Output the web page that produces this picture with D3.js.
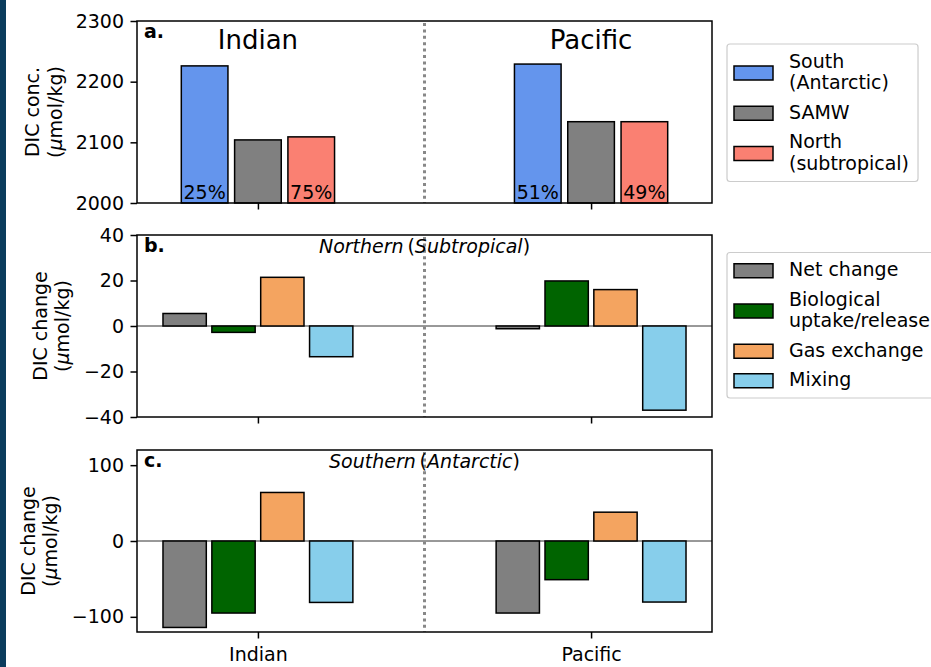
<!DOCTYPE html>
<html>
<head>
<meta charset="utf-8">
<script src="https://cdn.jsdelivr.net/npm/d3@7"></script>
<style>
  body { margin: 0; background: #fff; }
  text { font-family: "DejaVu Sans", sans-serif; }
</style>
</head>
<body>
<svg width="931" height="667"></svg>
<script>
// ---- data ----
const oceans = ["Indian", "Pacific"];

// panel a: DIC concentration of source waters and SAMW
const concLabels = ["South\n(Antarctic)", "SAMW", "North\n(subtropical)"];
const southConc = [2226, 2229];
const samwConc = [2104, 2134];
const northConc = [2109, 2134];
const southShare = ["25%", "51%"];
const northShare = ["75%", "49%"];

// panels b & c: DIC change terms
const termLabels = ["Net change", "Biological\nuptake/release", "Gas exchange", "Mixing"];
const northNet = [5.5, -1.2];
const northBio = [-2.8, 19.8];
const northGas = [21.4, 16.0];
const northMix = [-13.5, -37.0];
const southNet = [-114, -95];
const southBio = [-95, -51];
const southGas = [64, 38];
const southMix = [-81, -80.5];

const concTicks = [2000, 2100, 2200, 2300];
const northTicks = [-40, -20, 0, 20, 40];
const southTicks = [-100, 0, 100];

// ---- layout ----
const svg = d3.select("svg");
svg.append("rect").attr("width", 931).attr("height", 667).attr("fill", "#fff");
svg.append("rect").attr("width", 6).attr("height", 667).attr("fill", "#0b3c5d");

const FS = 19;
const left = 137, right = 712, H = 182;
const x = d3.scaleLinear().domain([-0.363, 1.363]).range([left, right]);
const fmt = d3.format("d");

function panel(p) {
  const g = svg.append("g");
  const y = d3.scaleLinear().domain(p.yDomain).range([p.top + H, p.top]);

  if (p.zero) {
    g.append("line")
      .attr("x1", left).attr("x2", right)
      .attr("y1", y(0)).attr("y2", y(0))
      .attr("stroke", "#333").attr("stroke-width", 1);
  }

  // divider between the two basins
  g.append("line")
    .attr("x1", x(0.5)).attr("x2", x(0.5))
    .attr("y1", p.top + 2).attr("y2", p.top + H)
    .attr("stroke", "#888").attr("stroke-width", 3)
    .attr("stroke-dasharray", "3,3.4");

  p.series.forEach((s, i) => {
    g.selectAll(null).data(s.values).join("rect")
      .attr("x", (d, j) => x(j + p.offsets[i] - p.barW / 2))
      .attr("width", x(p.barW) - x(0))
      .attr("y", d => y(Math.max(d, p.base)))
      .attr("height", d => Math.abs(y(d) - y(p.base)))
      .attr("fill", s.color)
      .attr("stroke", "#000")
      .attr("stroke-width", 1.5);
  });

  // y axis
  const ya = g.append("g").attr("transform", `translate(${left},0)`)
    .call(d3.axisLeft(y).tickValues(p.ticks).tickFormat(fmt).tickSize(6.5).tickPadding(6.5));
  ya.select(".domain").remove();
  ya.selectAll("line").attr("stroke", "#000").attr("stroke-width", 1.5);
  ya.selectAll("text").attr("font-size", FS).attr("fill", "#000")
    .attr("font-family", "DejaVu Sans");

  // x axis
  const xa = g.append("g").attr("transform", `translate(0,${p.top + H})`)
    .call(d3.axisBottom(x).tickValues([0, 1]).tickSize(6.5).tickPadding(9)
      .tickFormat(i => p.xLabels ? oceans[i] : ""));
  xa.select(".domain").remove();
  xa.selectAll("line").attr("stroke", "#000").attr("stroke-width", 1.5);
  xa.selectAll("text").attr("font-size", FS).attr("fill", "#000")
    .attr("font-family", "DejaVu Sans");

  // frame
  g.append("rect")
    .attr("x", left).attr("y", p.top)
    .attr("width", right - left).attr("height", H)
    .attr("fill", "none").attr("stroke", "#000").attr("stroke-width", 1.5);

  // panel letter
  g.append("text").attr("x", left + 7).attr("y", p.top + 17)
    .attr("font-size", FS).attr("font-weight", "bold").text(p.letter);

  // y label (two lines, unit line with italic mu)
  g.append("text")
    .attr("transform", `translate(${p.ylabelX[0]},${p.top + H / 2}) rotate(-90)`)
    .attr("text-anchor", "middle").attr("font-size", FS)
    .text(p.ylabel);
  const u = g.append("text")
    .attr("transform", `translate(${p.ylabelX[1]},${p.top + H / 2}) rotate(-90)`)
    .attr("text-anchor", "middle").attr("font-size", FS);
  u.append("tspan").text("(");
  u.append("tspan").attr("font-style", "italic").text("\u03bc");
  u.append("tspan").text("mol/kg)");

  return { g, y };
}

function legend(x0, y0, items) {
  const g = svg.append("g");
  const lh = 21.5, gap = 8;
  let cy = y0;
  const rows = items.map(it => {
    const lines = it.label.split("\n");
    const r = { it, lines, start: cy, h: lines.length * lh };
    cy += r.h + gap;
    return r;
  });
  const box = g.append("rect")
    .attr("x", x0).attr("y", y0 - 7.5)
    .attr("height", cy - gap - y0 + 14)
    .attr("rx", 3)
    .attr("fill", "#fff").attr("stroke", "#ccc").attr("stroke-width", 1.2);
  let maxR = 0;
  rows.forEach(r => {
    g.append("rect")
      .attr("x", x0 + 7).attr("y", r.start + r.h / 2 - 7)
      .attr("width", 39).attr("height", 14)
      .attr("fill", r.it.color).attr("stroke", "#000").attr("stroke-width", 1.5);
    r.lines.forEach((t, k) => {
      const tx = g.append("text")
        .attr("x", x0 + 62).attr("y", r.start + 16 + k * lh)
        .attr("font-size", FS).text(t);
      maxR = Math.max(maxR, x0 + 62 + tx.node().getComputedTextLength());
    });
  });
  box.attr("width", maxR - x0 + 9);
}

// ---- panel a ----
const concColors = ["#6495ED", "#808080", "#FA8072"];
const pa = panel({
  top: 21, yDomain: [2000, 2300], ticks: concTicks, base: 2000,
  offsets: [-0.16, 0, 0.16], barW: 0.14,
  series: [southConc, samwConc, northConc].map((v, i) => ({ values: v, color: concColors[i] })),
  letter: "a.", ylabel: "DIC conc.", ylabelX: [39, 62]
});
[[southShare, -0.16], [northShare, 0.16]].forEach(([labels, off]) => {
  pa.g.selectAll(null).data(labels).join("text")
    .attr("x", (d, j) => x(j + off))
    .attr("y", pa.y(2000) - 4.5)
    .attr("text-anchor", "middle").attr("font-size", FS)
    .text(d => d);
});
pa.g.selectAll(null).data(oceans).join("text")
  .attr("x", (d, j) => x(j)).attr("y", 49)
  .attr("text-anchor", "middle").attr("font-size", 26)
  .text(d => d);

// ---- panels b & c ----
const termColors = ["#808080", "#006400", "#F4A460", "#87CEEB"];
const termOffsets = [-0.22, -0.0733, 0.0733, 0.22];

const pb = panel({
  top: 235, yDomain: [-40, 40], ticks: northTicks, base: 0, zero: true,
  offsets: termOffsets, barW: 0.13,
  series: [northNet, northBio, northGas, northMix].map((v, i) => ({ values: v, color: termColors[i] })),
  letter: "b.", ylabel: "DIC change", ylabelX: [46.5, 69]
});

const pc = panel({
  top: 450, yDomain: [-120, 120], ticks: southTicks, base: 0, zero: true,
  offsets: termOffsets, barW: 0.13, xLabels: true,
  series: [southNet, southBio, southGas, southMix].map((v, i) => ({ values: v, color: termColors[i] })),
  letter: "c.", ylabel: "DIC change", ylabelX: [34.5, 57]
});

function subtitle(p, top, a, b) {
  const t = p.g.append("text").attr("x", x(0.5)).attr("y", top + 18)
    .attr("text-anchor", "middle").attr("font-size", FS);
  t.append("tspan").attr("font-style", "italic").text(a);
  t.append("tspan").text("\u2009(");
  t.append("tspan").attr("font-style", "italic").text(b);
  t.append("tspan").text(")");
}
subtitle(pb, 235, "Northern", "Subtropical");
subtitle(pc, 450, "Southern", "Antarctic");

// ---- legends ----
legend(727, 51.5, concLabels.map((l, i) => ({ label: l, color: concColors[i] })));
legend(727, 260, termLabels.map((l, i) => ({ label: l, color: termColors[i] })));
</script>
</body>
</html>
